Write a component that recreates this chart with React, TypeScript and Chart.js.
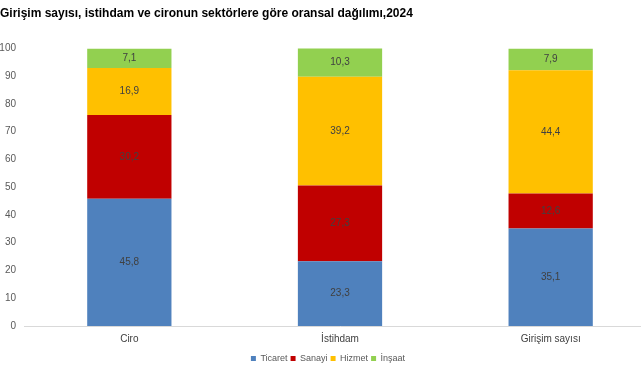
import React, { useEffect, useRef } from "react";
import { Chart, registerables } from "chart.js";

Chart.register(...registerables);

const TITLE = "Girişim sayısı, istihdam ve cironun sektörlere göre oransal dağılımı,2024";
const categories = ["Ciro", "İstihdam", "Girişim sayısı"];
const seriesNames = ["Ticaret", "Sanayi", "Hizmet", "İnşaat"];
const ticaret = [45.8, 23.3, 35.1];
const sanayi = [30.2, 27.3, 12.6];
const hizmet = [16.9, 39.2, 44.4];
const insaat = [7.1, 10.3, 7.9];
const colors = ["#4f81bd", "#c00000", "#ffc000", "#92d050"];

const CANVAS_W = 664;
const CANVAS_H = 380;

const dataLabelPlugin = {
  id: "segLabels",
  afterDatasetsDraw(chart: any) {
    const ctx = chart.ctx;
    ctx.save();
    ctx.font = "10px 'Liberation Sans', Arial, sans-serif";
    ctx.fillStyle = "#404040";
    ctx.textAlign = "center";
    ctx.textBaseline = "middle";
    chart.data.datasets.forEach((ds: any, di: number) => {
      const meta = chart.getDatasetMeta(di);
      meta.data.forEach((el: any, i: number) => {
        const v = ds.data[i];
        const y = (el.y + el.base) / 2;
        ctx.fillText(v.toFixed(1).replace(".", ","), el.x, y);
      });
    });
    ctx.restore();
  },
};

export default function App() {
  const ref = useRef<HTMLCanvasElement | null>(null);
  useEffect(() => {
    if (!ref.current) return;
    Chart.defaults.font.family = "'Liberation Sans', Arial, sans-serif";
    const series = [ticaret, sanayi, hizmet, insaat];
    const chart = new Chart(ref.current, {
      type: "bar",
      data: {
        labels: categories,
        datasets: seriesNames.map((name, i) => ({
          label: name,
          data: series[i],
          backgroundColor: colors[i],
          borderWidth: 0,
          barPercentage: 0.4,
          categoryPercentage: 1,
        })),
      },
      options: {
        responsive: false,
        animation: false,
        layout: { padding: { left: 0, right: CANVAS_W - 656, top: 0, bottom: 7 } },
        plugins: {
          title: {
            display: true,
            text: TITLE,
            align: "start",
            color: "#000000",
            font: { size: 12, weight: "bold" },
            padding: { top: 6, bottom: 28 },
          },
          legend: {
            position: "bottom",
            labels: {
              boxWidth: 5,
              boxHeight: 5,
              color: "#595959",
              font: { size: 9 },
              padding: 3,
            },
          },
          tooltip: { enabled: false },
        },
        scales: {
          x: {
            stacked: true,
            grid: { display: false, drawTicks: false },
            border: { display: true, color: "#d9d9d9" },
            ticks: { color: "#404040", font: { size: 10 }, padding: 7 },
            afterFit: (s: any) => {
              s.height -= 1;
            },
          },
          y: {
            stacked: true,
            min: 0,
            max: 100,
            grid: { display: false, drawTicks: false },
            border: { display: false },
            ticks: { stepSize: 10, color: "#595959", font: { size: 10 }, padding: 8 },
            afterFit: (s: any) => {
              s.width = 24;
            },
          },
        },
      },
      plugins: [dataLabelPlugin],
    });
    return () => chart.destroy();
  }, []);
  return (
    <div style={{ position: "fixed", left: 0, top: 0, width: 641, height: 380, overflow: "hidden", background: "#fff" }}>
      <canvas ref={ref} width={CANVAS_W} height={CANVAS_H} style={{ display: "block" }} />
    </div>
  );
}
